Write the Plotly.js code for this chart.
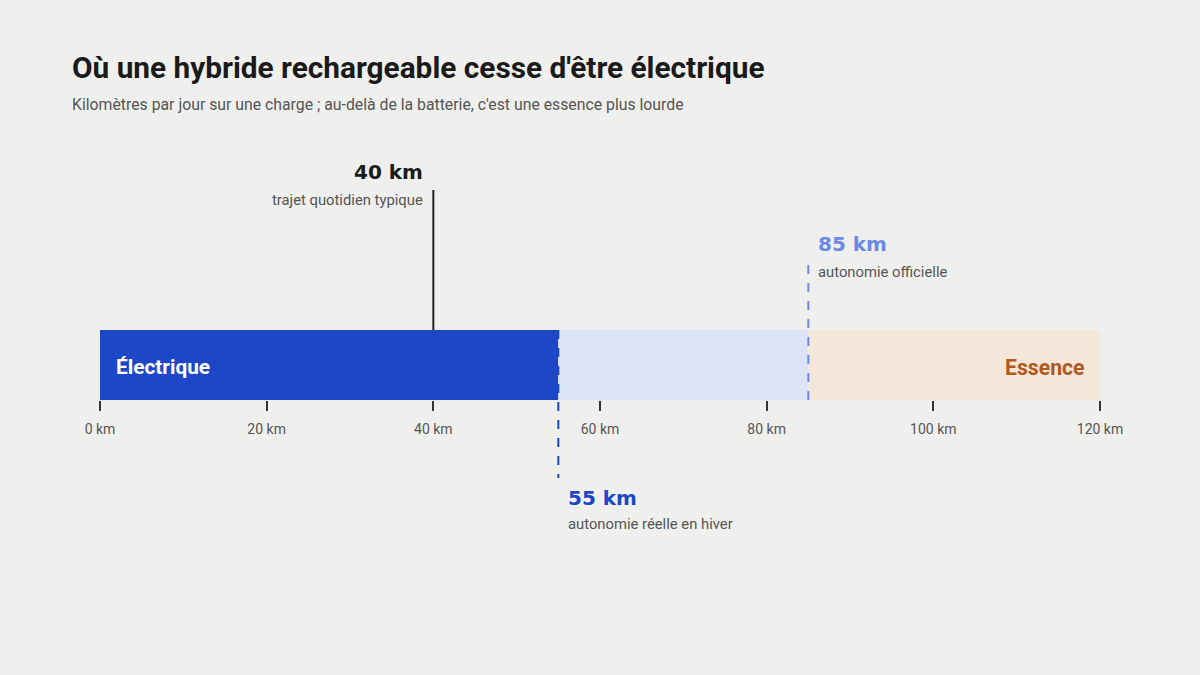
<!DOCTYPE html>
<html><head><meta charset="utf-8">
<script src="https://cdn.plot.ly/plotly-3.0.1.min.js"></script>
<style>html,body{margin:0;padding:0;background:#eff0ed;}#c{width:1200px;height:675px;}</style>
</head><body><div id="c"></div>
<script>
const segNames = ["Électrique", "Zone incertaine", "Essence"];
const segStart = [0, 55, 85];
const segEnd = [55, 85, 120];
const segColors = ["#1c47c6", "#dce5f8", "#f4e6d9"];
const markerValues = [40, 85, 55];
const markerLabels = ["40 km", "85 km", "55 km"];
const markerNotes = ["trajet quotidien typique", "autonomie officielle", "autonomie réelle en hiver"];
const tickVals = [0, 20, 40, 60, 80, 100, 120];
const tickText = tickVals.map(v => v + " km");

const traces = segNames.map((n, i) => ({
  type: "bar", orientation: "h", y: [0], x: [segEnd[i] - segStart[i]], base: [segStart[i]],
  width: [1], marker: {color: segColors[i], line: {width: 0}}, name: n, hoverinfo: "skip"
}));

const py = p => (400 - p) / 70;
const body = "Roboto, 'Liberation Sans', sans-serif";
const num = "'DejaVu Sans', sans-serif";

const layout = {
  width: 1200, height: 675,
  paper_bgcolor: "#eff0ed", plot_bgcolor: "#eff0ed",
  margin: {l: 100, r: 100, t: 330, b: 275},
  showlegend: false, barmode: "overlay",
  xaxis: {range: [0, 120], tickvals: tickVals, ticktext: tickText, ticks: "outside", ticklen: 10,
    tickwidth: 2, tickcolor: "#333", showgrid: false, zeroline: false, showline: false,
    ticklabelstandoff: 6,
    tickfont: {family: body, size: 14, color: "#555"}, fixedrange: true},
  yaxis: {range: [-0.5, 0.5], visible: false, fixedrange: true},
  title: {text: "<b>Où une hybride rechargeable cesse d'être électrique</b>", x: 72/1200, xanchor: "left",
    y: 1 - 68/675, yanchor: "middle", font: {family: body, size: 29.8, color: "#1a1a1a"}},
  shapes: [
    {type: "line", xref: "x", yref: "paper", x0: markerValues[0], x1: markerValues[0], y0: py(330), y1: py(190),
      line: {color: "#222", width: 2}},
    {type: "line", xref: "x", yref: "paper", x0: markerValues[1], x1: markerValues[1], y0: py(400), y1: py(260),
      line: {color: "#6b8ae6", width: 2, dash: "dash"}},
    {type: "line", xref: "x", yref: "paper", x0: markerValues[2], x1: markerValues[2], y0: py(330), y1: py(478),
      line: {color: "#1c47c6", width: 2, dash: "dash"}}
  ],
  annotations: [
    {xref: "paper", yref: "paper", x: -28/1000, xshift: -2, y: py(104), xanchor: "left", yanchor: "middle", showarrow: false,
      text: "Kilomètres par jour sur une charge ; au-delà de la batterie, c'est une essence plus lourde",
      font: {family: body, size: 15.8, color: "#555"}},
    {xref: "x", yref: "paper", x: markerValues[0], xshift: -8, y: py(172), xanchor: "right", yanchor: "middle", showarrow: false,
      text: "<b>" + markerLabels[0] + "</b>", font: {family: num, size: 20, color: "#1a1a1a"}},
    {xref: "x", yref: "paper", x: markerValues[0], xshift: -8, y: py(200), xanchor: "right", yanchor: "middle", showarrow: false,
      text: markerNotes[0], font: {family: body, size: 14.8, color: "#555"}},
    {xref: "x", yref: "paper", x: markerValues[1], xshift: 8, y: py(244), xanchor: "left", yanchor: "middle", showarrow: false,
      text: "<b>" + markerLabels[1] + "</b>", font: {family: num, size: 20, color: "#6b8ae6"}},
    {xref: "x", yref: "paper", x: markerValues[1], xshift: 8, y: py(272), xanchor: "left", yanchor: "middle", showarrow: false,
      text: markerNotes[1], font: {family: body, size: 14.8, color: "#555"}},
    {xref: "x", yref: "paper", x: markerValues[2], xshift: 8, y: py(498), xanchor: "left", yanchor: "middle", showarrow: false,
      text: "<b>" + markerLabels[2] + "</b>", font: {family: num, size: 20, color: "#1c47c6"}},
    {xref: "x", yref: "paper", x: markerValues[2], xshift: 8, y: py(524), xanchor: "left", yanchor: "middle", showarrow: false,
      text: markerNotes[2], font: {family: body, size: 14.8, color: "#555"}},
    {xref: "x", yref: "paper", x: segStart[0], xshift: 14, y: 0.5, yshift: -2, xanchor: "left", yanchor: "middle", showarrow: false,
      text: "<b>" + segNames[0] + "</b>", font: {family: body, size: 20.8, color: "#ffffff"}},
    {xref: "x", yref: "paper", x: segEnd[2], xshift: -14, y: 0.5, yshift: -2, xanchor: "right", yanchor: "middle", showarrow: false,
      text: "<b>" + segNames[2] + "</b>", font: {family: body, size: 21.2, color: "#b05a1e"}}
  ]
};
Plotly.newPlot("c", traces, layout, {displayModeBar: false, staticPlot: true});
</script></body></html>
